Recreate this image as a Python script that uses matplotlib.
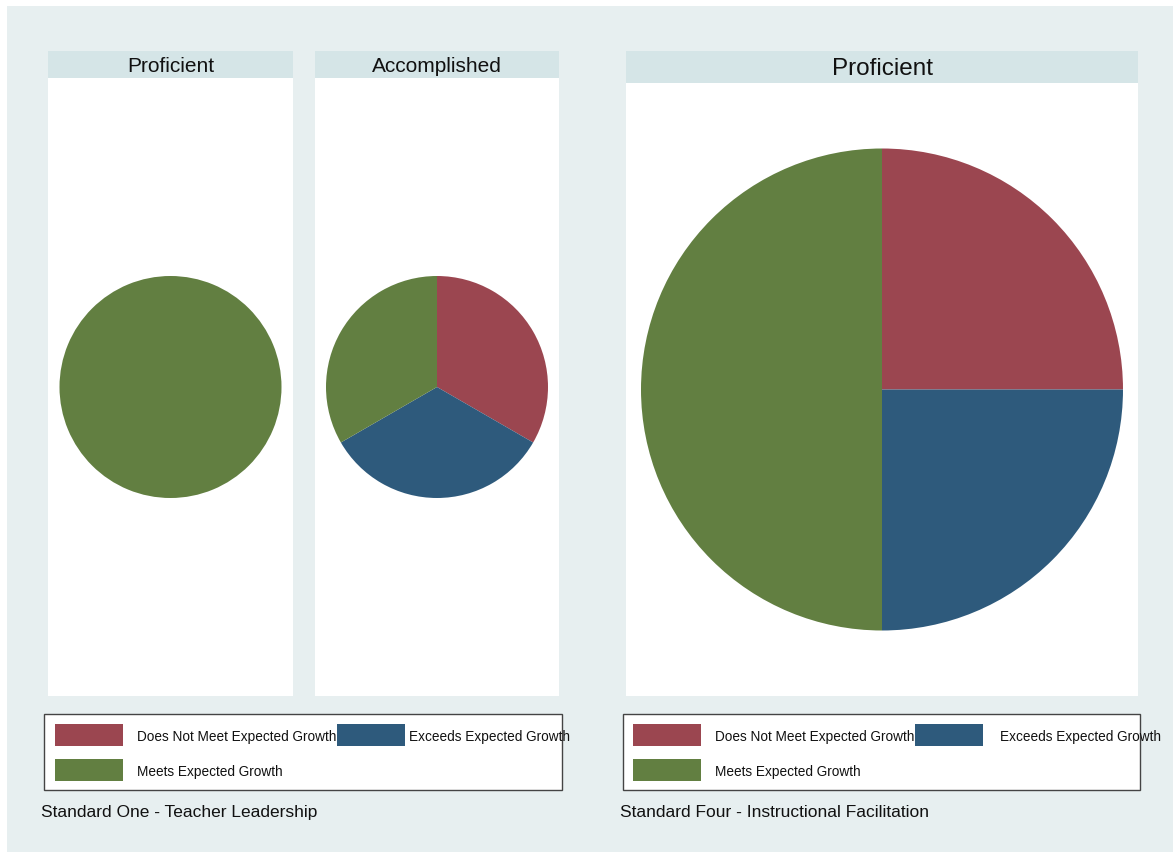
import matplotlib
matplotlib.use("Agg")
import matplotlib.pyplot as plt
from matplotlib.patches import Rectangle

plt.rcParams['font.family'] = ['Liberation Sans', 'DejaVu Sans']

# growth categories (legend order) and their colours
categories = ['Does Not Meet Expected Growth', 'Exceeds Expected Growth', 'Meets Expected Growth']
colors = ['#9b4650', '#2e5a7c', '#627f41']

# Standard One - Teacher Leadership: counts per rating
std1_title = 'Standard One - Teacher Leadership'
std1_panels = ['Proficient', 'Accomplished']
std1_proficient = [0, 0, 1]
std1_accomplished = [1, 1, 1]

# Standard Four - Instructional Facilitation
std4_title = 'Standard Four - Instructional Facilitation'
std4_panels = ['Proficient']
std4_proficient = [1, 1, 2]

W, H = 1173, 853
fig = plt.figure(figsize=(W / 100, H / 100), dpi=100)
fig.patch.set_facecolor('white')

# full-figure canvas in pixel coordinates for background, legends, captions
canvas = fig.add_axes([0, 0, 1, 1], zorder=-1)
canvas.set_xlim(0, W)
canvas.set_ylim(H, 0)
canvas.axis('off')
canvas.add_patch(Rectangle((7, 7), W - 7, H - 7, facecolor='#e7eff0', edgecolor='none'))


def px_axes(x0, y0, x1, y1):
    return fig.add_axes([x0 / W, 1 - y1 / H, (x1 - x0) / W, (y1 - y0) / H])


def panel(x0, x1, strip_top, strip_bot, plot_bot, title, values, radius, fsize):
    # strip header
    canvas.add_patch(Rectangle((x0, strip_top), x1 - x0, strip_bot - strip_top,
                               facecolor='#d5e5e7', edgecolor='none'))
    canvas.text((x0 + x1) / 2, (strip_top + strip_bot) / 2 + 1, title,
                ha='center', va='center', fontsize=fsize, color='#111111')
    ax = px_axes(x0, strip_bot, x1, plot_bot)
    w, h = x1 - x0, plot_bot - strip_bot
    ax.pie(values, colors=colors, startangle=90, counterclock=False,
           radius=radius, center=(w / 2, h / 2), frame=True,
           wedgeprops=dict(linewidth=0))
    ax.set_xlim(0, w)
    ax.set_ylim(0, h)
    ax.set_aspect('auto')
    ax.set_xticks([])
    ax.set_yticks([])
    for s in ax.spines.values():
        s.set_visible(False)
    ax.set_facecolor('white')


panel(48, 293, 52, 79, 697, std1_panels[0], std1_proficient, 111, 15)
panel(315, 559, 52, 79, 697, std1_panels[1], std1_accomplished, 111, 15)
panel(626, 1138, 52, 84, 697, std4_panels[0], std4_proficient, 241, 17.5)


def legend_box(bx0, bx1, patch_x, text_x, blue_x, blue_text_x, caption_x, caption):
    canvas.add_patch(Rectangle((bx0, 715), bx1 - bx0, 76, facecolor='white',
                               edgecolor='#444444', linewidth=1.0))
    entries = [(patch_x, 725, text_x, 0), (blue_x, 725, blue_text_x, 1), (patch_x, 760, text_x, 2)]
    for px, py, tx, i in entries:
        canvas.add_patch(Rectangle((px, py), 68, 22, facecolor=colors[i], edgecolor='none'))
        canvas.text(tx, py + 12, categories[i], ha='left', va='center',
                    fontsize=9.8, color='#111111')
    canvas.text(caption_x, 813, caption, ha='left', va='center', fontsize=12.5, color='#111111')


legend_box(44, 562, 55, 137, 337, 409, 41, std1_title)
legend_box(623, 1140, 633, 715, 915, 1000, 620, std4_title)

fig.savefig('out.png', dpi=100)
